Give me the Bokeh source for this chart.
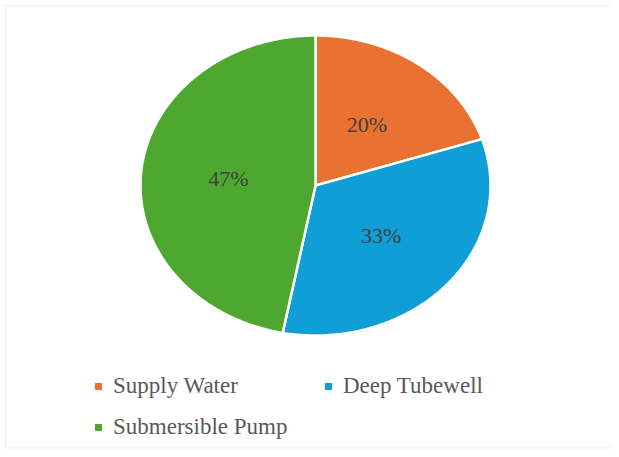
import numpy as np
from bokeh.plotting import figure
from bokeh.models import Range1d, ColumnDataSource, Legend, LegendItem, BoxAnnotation
from bokeh.core.properties import value
from bokeh.embed import file_html
from bokeh.resources import INLINE

categories = ["Supply Water", "Deep Tubewell", "Submersible Pump"]
shares = [20, 33, 47]
labels = ["20%", "33%", "47%"]
colors = ["#E97132", "#0F9ED5", "#4EA72E"]

FONT = "Liberation Serif"
W, H = 611, 449
p = figure(width=W, height=H, output_backend="svg", toolbar_location=None,
           x_range=Range1d(0, W), y_range=Range1d(H, 0),
           min_border=0)
p.axis.visible = False
p.grid.visible = False
p.outline_line_color = None
p.background_fill_color = "white"
p.add_layout(BoxAnnotation(left=5, right=W + 20, top=5, bottom=H - 2,
                           fill_alpha=0, line_color="#d9d9d9", line_width=2))

cx, cy, rx, ry = 315, 185, 175, 150
total = sum(shares)
start = np.pi / 2
renderers = []
lx, ly = [], []
for cat, s, c in zip(categories, shares, colors):
    sweep = 2 * np.pi * s / total
    end = start - sweep
    t = np.linspace(start, end, 200)
    xs = np.concatenate([[cx], cx + rx * np.cos(t), [cx]])
    ys = np.concatenate([[cy], cy - ry * np.sin(t), [cy]])
    r = p.patch(xs, ys, fill_color=c, line_color="white", line_width=2.5)
    renderers.append((cat, r))
    mid = (start + end) / 2
    lx.append(cx + 0.5 * rx * np.cos(mid))
    ly.append(cy - 0.5 * ry * np.sin(mid))
    start = end

src = ColumnDataSource(dict(x=lx, y=ly, t=labels))
p.text("x", "y", text="t", source=src, text_align="center", text_baseline="middle",
       text_font=value(FONT), text_font_size="22px", text_color="#404040")

legend = Legend(items=[LegendItem(label=cat, renderers=[r]) for cat, r in renderers],
                orientation="horizontal", ncols=2,
                location=(92, 9), padding=0, margin=0, spacing=15,
                glyph_width=12, glyph_height=12, label_standoff=9, label_width=194,
                label_text_font=FONT, label_text_font_size="23px",
                label_text_color="#595959", border_line_color=None,
                background_fill_alpha=0)
p.add_layout(legend, "center")

open("out.html", "w").write(file_html(p, INLINE))
